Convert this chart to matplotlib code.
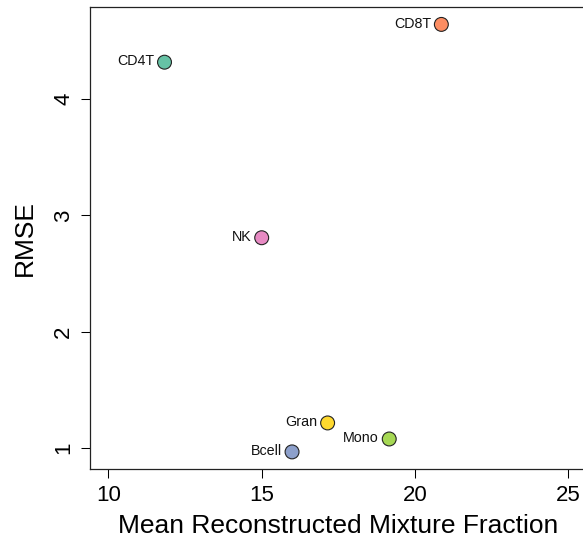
import matplotlib
matplotlib.use("Agg")
import matplotlib.pyplot as plt

plt.rcParams["font.family"] = ["Liberation Sans", "DejaVu Sans"]

cell_types = ["CD4T", "CD8T", "NK", "Gran", "Mono", "Bcell"]
mean_fraction = [11.83, 20.86, 15.0, 17.15, 19.16, 15.99]
rmse = [4.318, 4.643, 2.808, 1.215, 1.077, 0.966]
colors = ["#66C2A5", "#FC8D62", "#E78AC3", "#FFD92F", "#A6D854", "#8DA0CB"]

x_ticks = [10, 15, 20, 25]
y_ticks = [1, 2, 3, 4]

fig = plt.figure(figsize=(5.83, 5.41), dpi=100)
ax = fig.add_axes([0.1544, 0.1331, 0.8519, 0.8534])

ax.scatter(mean_fraction, rmse, s=100, c=colors, edgecolors="#222222",
           linewidths=0.8, zorder=3)
for name, x, y in zip(cell_types, mean_fraction, rmse):
    ax.annotate(name, (x, y), xytext=(-7.5, 0.5), textcoords="offset points",
                ha="right", va="center", fontsize=10.3, color="#111111")

# R style limits: 4% padding
ax.set_xlim(10 - 0.6, 25 + 0.6)
ymin, ymax = min(rmse), max(rmse)
pad = 0.04 * (ymax - ymin)
ax.set_ylim(ymin - pad, ymax + pad)

ax.set_xticks(x_ticks)
ax.set_yticks(y_ticks)
ax.tick_params(direction="out", length=6.5, width=0.75, labelsize=16, pad=5)
for lab in ax.get_yticklabels():
    lab.set_rotation(90)
    lab.set_va("center")
for sp in ax.spines.values():
    sp.set_linewidth(0.9)
    sp.set_color("#222222")

ax.set_xlabel("Mean Reconstructed Mixture Fraction", fontsize=19, labelpad=6)
ax.set_ylabel("RMSE", fontsize=19, labelpad=12)

fig.savefig("out.png", dpi=100)
